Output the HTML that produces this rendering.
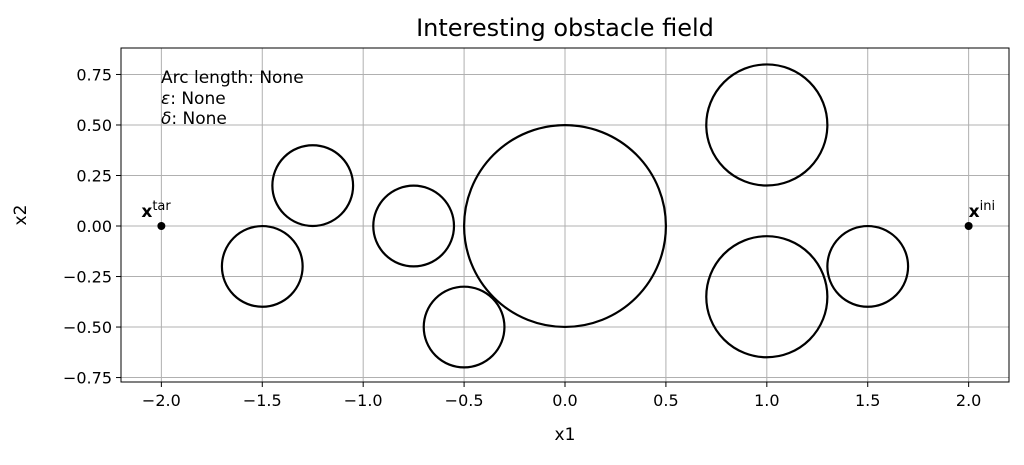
<!DOCTYPE html>
<html><head><meta charset="utf-8"><style>
body{margin:0;background:#fff;}
svg text{font-family:"DejaVu Sans","Liberation Sans",sans-serif;fill:#000;}
</style></head><body>
<svg id="chart" width="1024" height="460" xmlns="http://www.w3.org/2000/svg">
<text x="565" y="36" font-size="24" text-anchor="middle">Interesting obstacle field</text>
<g id="grid"></g>
<g id="ticks"></g>
<g id="marks"></g>
<rect x="121" y="48" width="888" height="334" fill="none" stroke="#000" stroke-width="1"/>
<text x="565" y="440" font-size="17" text-anchor="middle">x1</text>
<text x="26" y="215" font-size="17" text-anchor="middle" transform="rotate(-90 26 215)">x2</text>
<text x="161" y="83" font-size="17">Arc length: None</text>
<text x="161" y="104" font-size="17"><tspan font-style="italic">ε</tspan>: None</text>
<text x="161" y="124" font-size="17"><tspan font-style="italic">δ</tspan>: None</text>
</svg>
<script>
const xTicks=[-2.0,-1.5,-1.0,-0.5,0.0,0.5,1.0,1.5,2.0];
const yTicks=[0.75,0.5,0.25,0,-0.25,-0.5,-0.75];
const circleX=[-1.5,-1.25,-0.75,-0.5,0,1,1,1.5];
const circleY=[-0.2,0.2,0,-0.5,0,0.5,-0.35,-0.2];
const circleR=[0.2,0.2,0.2,0.2,0.5,0.3,0.3,0.2];
const pointX=[-2,2];
const pointY=[0,0];
const pointLabels=["tar","ini"];
const X0=121,X1=1009,Y0=382,Y1=48,xmin=-2.2,xmax=2.2,ymin=-0.772,ymax=0.881;
const sx=v=>X0+(v-xmin)/(xmax-xmin)*(X1-X0);
const sy=v=>Y0-(v-ymin)/(ymax-ymin)*(Y0-Y1);
const ppu=(X1-X0)/(xmax-xmin);
const NS="http://www.w3.org/2000/svg";
function mk(t,a,p){const e=document.createElementNS(NS,t);for(const k in a)e.setAttribute(k,a[k]);p.appendChild(e);return e;}
const g=document.getElementById('grid'),tk=document.getElementById('ticks'),m=document.getElementById('marks');
const fmt=v=>v.toFixed(1).replace('-','−');
const fmt2=v=>v.toFixed(2).replace('-','−');
xTicks.forEach(v=>{const x=sx(v);
 const l=mk('line',{x1:x,x2:x,y1:Y1,y2:Y0,stroke:'#b0b0b0','stroke-width':1},g);
 
 const t=mk('line',{x1:x,x2:x,y1:Y0,y2:Y0+5,stroke:'#000'},tk);
 
 const s=mk('text',{x:x,y:Y0+24,'font-size':16,'text-anchor':'middle'},tk);s.textContent=fmt(v);
 });
yTicks.forEach(v=>{const y=sy(v);
 const l=mk('line',{x1:X0,x2:X1,y1:y,y2:y,stroke:'#b0b0b0','stroke-width':1},g);
 
 const t=mk('line',{x1:X0-5,x2:X0,y1:y,y2:y,stroke:'#000'},tk);
 
 const s=mk('text',{x:X0-9,y:y+6,'font-size':16,'text-anchor':'end'},tk);s.textContent=fmt2(v);
 });
circleX.forEach((cx,i)=>{const c=mk('circle',{cx:sx(cx),cy:sy(circleY[i]),r:circleR[i]*ppu,fill:'none',stroke:'#000','stroke-width':2.2},m);
 });
pointX.forEach((px,i)=>{const x=sx(px),y=sy(pointY[i]);
 const c=mk('circle',{cx:x,cy:y,r:4,fill:'#000'},m);
 
 const t=mk('text',{x:i==0?x-20:x,y:y-9,'font-size':17},m);
 t.innerHTML='<tspan font-weight="bold">x</tspan><tspan dy="-7" font-size="13">'+pointLabels[i]+'</tspan>';
 });
</script>
</body></html>
